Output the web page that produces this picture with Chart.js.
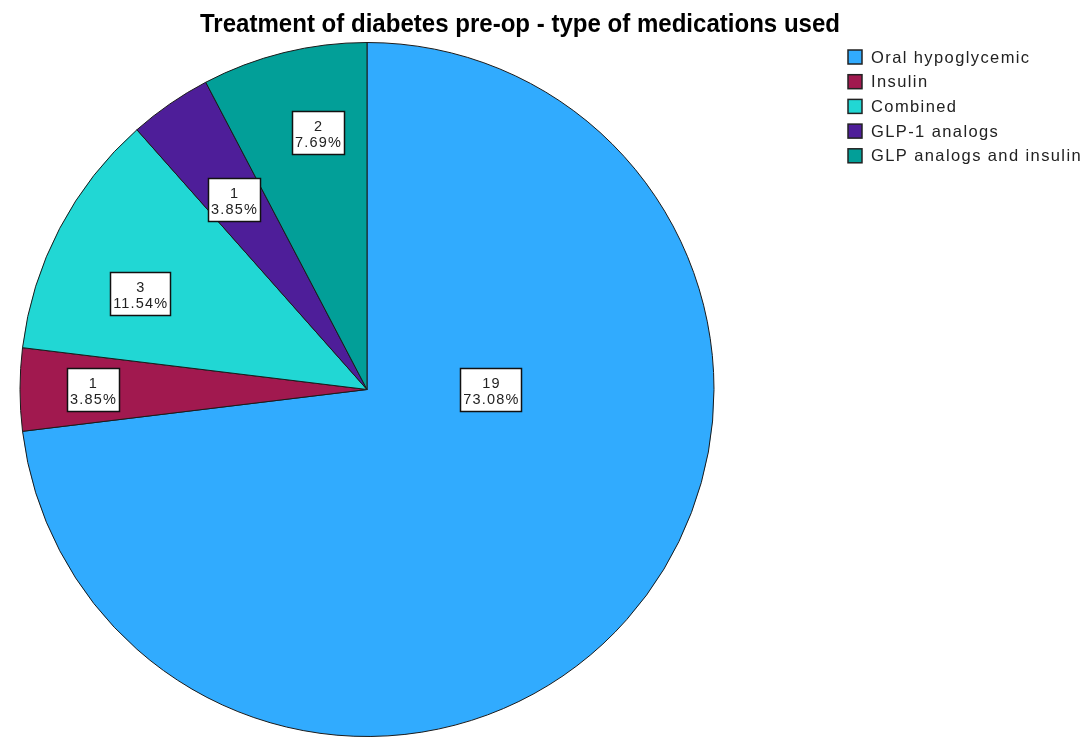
<!DOCTYPE html>
<html>
<head>
<meta charset="utf-8">
<script src="https://cdn.jsdelivr.net/npm/chart.js@4/dist/chart.umd.min.js"></script>
<style>
  html, body { margin: 0; padding: 0; background: #fff; }
  #wrap { width: 1086px; height: 737px; position: relative; }
</style>
</head>
<body>
<div id="wrap"><canvas id="pie"></canvas></div>
<script>
const categories = ['Oral hypoglycemic', 'Insulin', 'Combined', 'GLP-1 analogs', 'GLP analogs and insulin'];
const counts = [19, 1, 3, 1, 2];
const percents = ['73.08%', '3.85%', '11.54%', '3.85%', '7.69%'];
const colors = ['#31abfe', '#a1194f', '#21d7d4', '#4e1e99', '#029f98'];

// value box placement: fraction of the radius and angle (deg clockwise from 12 o'clock)
const labelPlacement = [
    { frac: 0.357, angle: 90 },
    { frac: 0.79, angle: 270 },
    { frac: 0.71, angle: 293 },
    { frac: 0.668, angle: 325 },
    { frac: 0.753, angle: 349.2 },
];

const FONT = '"Liberation Sans", Arial, sans-serif';

const titlePlugin = {
    id: 'spssTitle',
    afterDraw(chart) {
        const ctx = chart.ctx;
        ctx.save();
        ctx.font = 'bold 25px ' + FONT;
        ctx.fillStyle = '#000';
        ctx.textAlign = 'center';
        ctx.textBaseline = 'alphabetic';
        ctx.fillText('Treatment of diabetes pre-op - type of medications used', 520, 32, 640);
        ctx.restore();
    }
};

const legendPlugin = {
    id: 'spssLegend',
    afterDraw(chart) {
        const ctx = chart.ctx;
        ctx.save();
        ctx.font = '16.5px ' + FONT;
        ctx.letterSpacing = '1.4px';
        ctx.textBaseline = 'alphabetic';
        categories.forEach((name, i) => {
            const y = 57 + i * 24.7;
            ctx.fillStyle = colors[i];
            ctx.fillRect(848, y - 7, 14, 14);
            ctx.strokeStyle = '#222';
            ctx.lineWidth = 1.5;
            ctx.strokeRect(848, y - 7, 14, 14);
            ctx.fillStyle = '#222';
            ctx.fillText(name, 871, y + 5.5);
        });
        ctx.restore();
    }
};

const valueBoxPlugin = {
    id: 'valueBoxes',
    afterDatasetsDraw(chart) {
        const ctx = chart.ctx;
        const meta = chart.getDatasetMeta(0);
        ctx.save();
        ctx.font = '14.5px ' + FONT;
        ctx.letterSpacing = '1.2px';
        ctx.textAlign = 'center';
        ctx.textBaseline = 'alphabetic';
        meta.data.forEach((arc, i) => {
            const p = arc.getProps(['x', 'y', 'outerRadius'], true);
            const place = labelPlacement[i];
            const a = (place.angle - 90) * Math.PI / 180;
            const cx = p.x + Math.cos(a) * p.outerRadius * place.frac;
            const cy = p.y + Math.sin(a) * p.outerRadius * place.frac;
            const lines = [String(counts[i]), percents[i]];
            const w = Math.round(Math.max(...lines.map(t => ctx.measureText(t).width)) + 5);
            const h = 43;
            const bx = Math.round(cx - w / 2) + 0.5;
            const by = Math.round(cy - h / 2) + 0.5;
            ctx.fillStyle = '#fff';
            ctx.fillRect(bx, by, w, h);
            ctx.strokeStyle = '#111';
            ctx.lineWidth = 1.5;
            ctx.strokeRect(bx, by, w, h);
            ctx.fillStyle = '#222';
            // letterSpacing adds a trailing gap, nudge back by half of it
            ctx.fillText(lines[0], cx + 0.6, cy - 1.5);
            ctx.fillText(lines[1], cx + 0.6, cy + 14.5);
        });
        ctx.restore();
    }
};

new Chart(document.getElementById('pie'), {
    type: 'pie',
    data: {
        labels: categories,
        datasets: [{
            data: counts,
            backgroundColor: colors,
            borderColor: '#1a1a1a',
            borderWidth: 1,
        }],
    },
    options: {
        responsive: true,
        maintainAspectRatio: false,
        animation: false,
        layout: { padding: { top: 42, bottom: 0, left: 19, right: 371 } },
        plugins: {
            legend: { display: false },
            tooltip: { enabled: false },
            title: { display: false },
        },
    },
    plugins: [titlePlugin, legendPlugin, valueBoxPlugin],
});
</script>
</body>
</html>
